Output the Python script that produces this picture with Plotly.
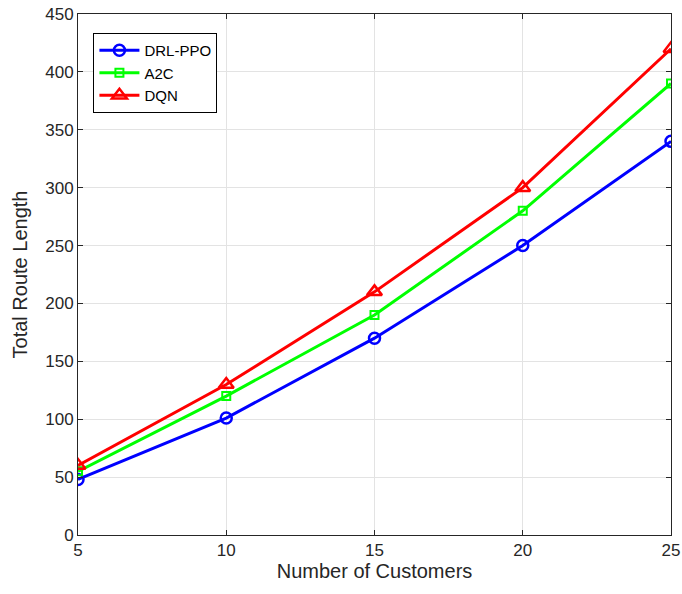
import plotly.graph_objects as go

customers = [5, 10, 15, 20, 25]
drl_ppo = [48, 101, 170, 250, 340]
a2c = [55, 120, 190, 280, 390]
dqn = [60, 130, 210, 300, 420]
y_ticks = [0, 50, 100, 150, 200, 250, 300, 350, 400, 450]

fig = go.Figure()
fig.add_trace(go.Scatter(x=customers, y=drl_ppo, name="DRL-PPO", mode="lines+markers",
                         line=dict(color="#0000FF", width=3),
                         marker=dict(symbol="circle-open", size=11, line=dict(width=2.5, color="#0000FF"))))
fig.add_trace(go.Scatter(x=customers, y=a2c, name="A2C", mode="lines+markers",
                         line=dict(color="#00FF00", width=3),
                         marker=dict(symbol="square-open", size=8, line=dict(width=2, color="#00FF00"))))
fig.add_trace(go.Scatter(x=customers, y=dqn, name="DQN", mode="lines+markers",
                         line=dict(color="#FF0000", width=3),
                         marker=dict(symbol="triangle-up-open", size=13, line=dict(width=2.5, color="#FF0000"))))

font_col = "#262626"
fig.update_layout(
    width=682, height=594,
    margin=dict(l=78, r=11, t=14, b=59),
    paper_bgcolor="white", plot_bgcolor="white",
    font=dict(family="Liberation Sans, Arial, sans-serif", size=16, color=font_col),
    legend=dict(x=0.026, y=0.9635, xanchor="left", yanchor="top",
                bgcolor="white", bordercolor="#000000", borderwidth=1,
                font=dict(size=15, color="#000000"), tracegroupgap=0, itemwidth=40),
)
fig.update_xaxes(range=[5, 25], tickvals=customers, showgrid=True, gridcolor="#E3E3E3",
                 showline=True, linecolor="#262626", linewidth=1, mirror="ticks",
                 ticks="inside", ticklen=5, tickcolor="#262626", automargin=False,
                 tickfont=dict(size=17),
                 title=dict(text="Number of Customers", font=dict(size=20), standoff=2),
                 zeroline=False)
fig.update_yaxes(range=[0, 450], tickvals=y_ticks, showgrid=True, gridcolor="#E3E3E3",
                 showline=True, linecolor="#262626", linewidth=1, mirror="ticks",
                 ticks="inside", ticklen=5, tickcolor="#262626", automargin=False,
                 tickfont=dict(size=17),
                 title=dict(text="Total Route Length", font=dict(size=20), standoff=12),
                 zeroline=False)

fig.write_html("out.html")
